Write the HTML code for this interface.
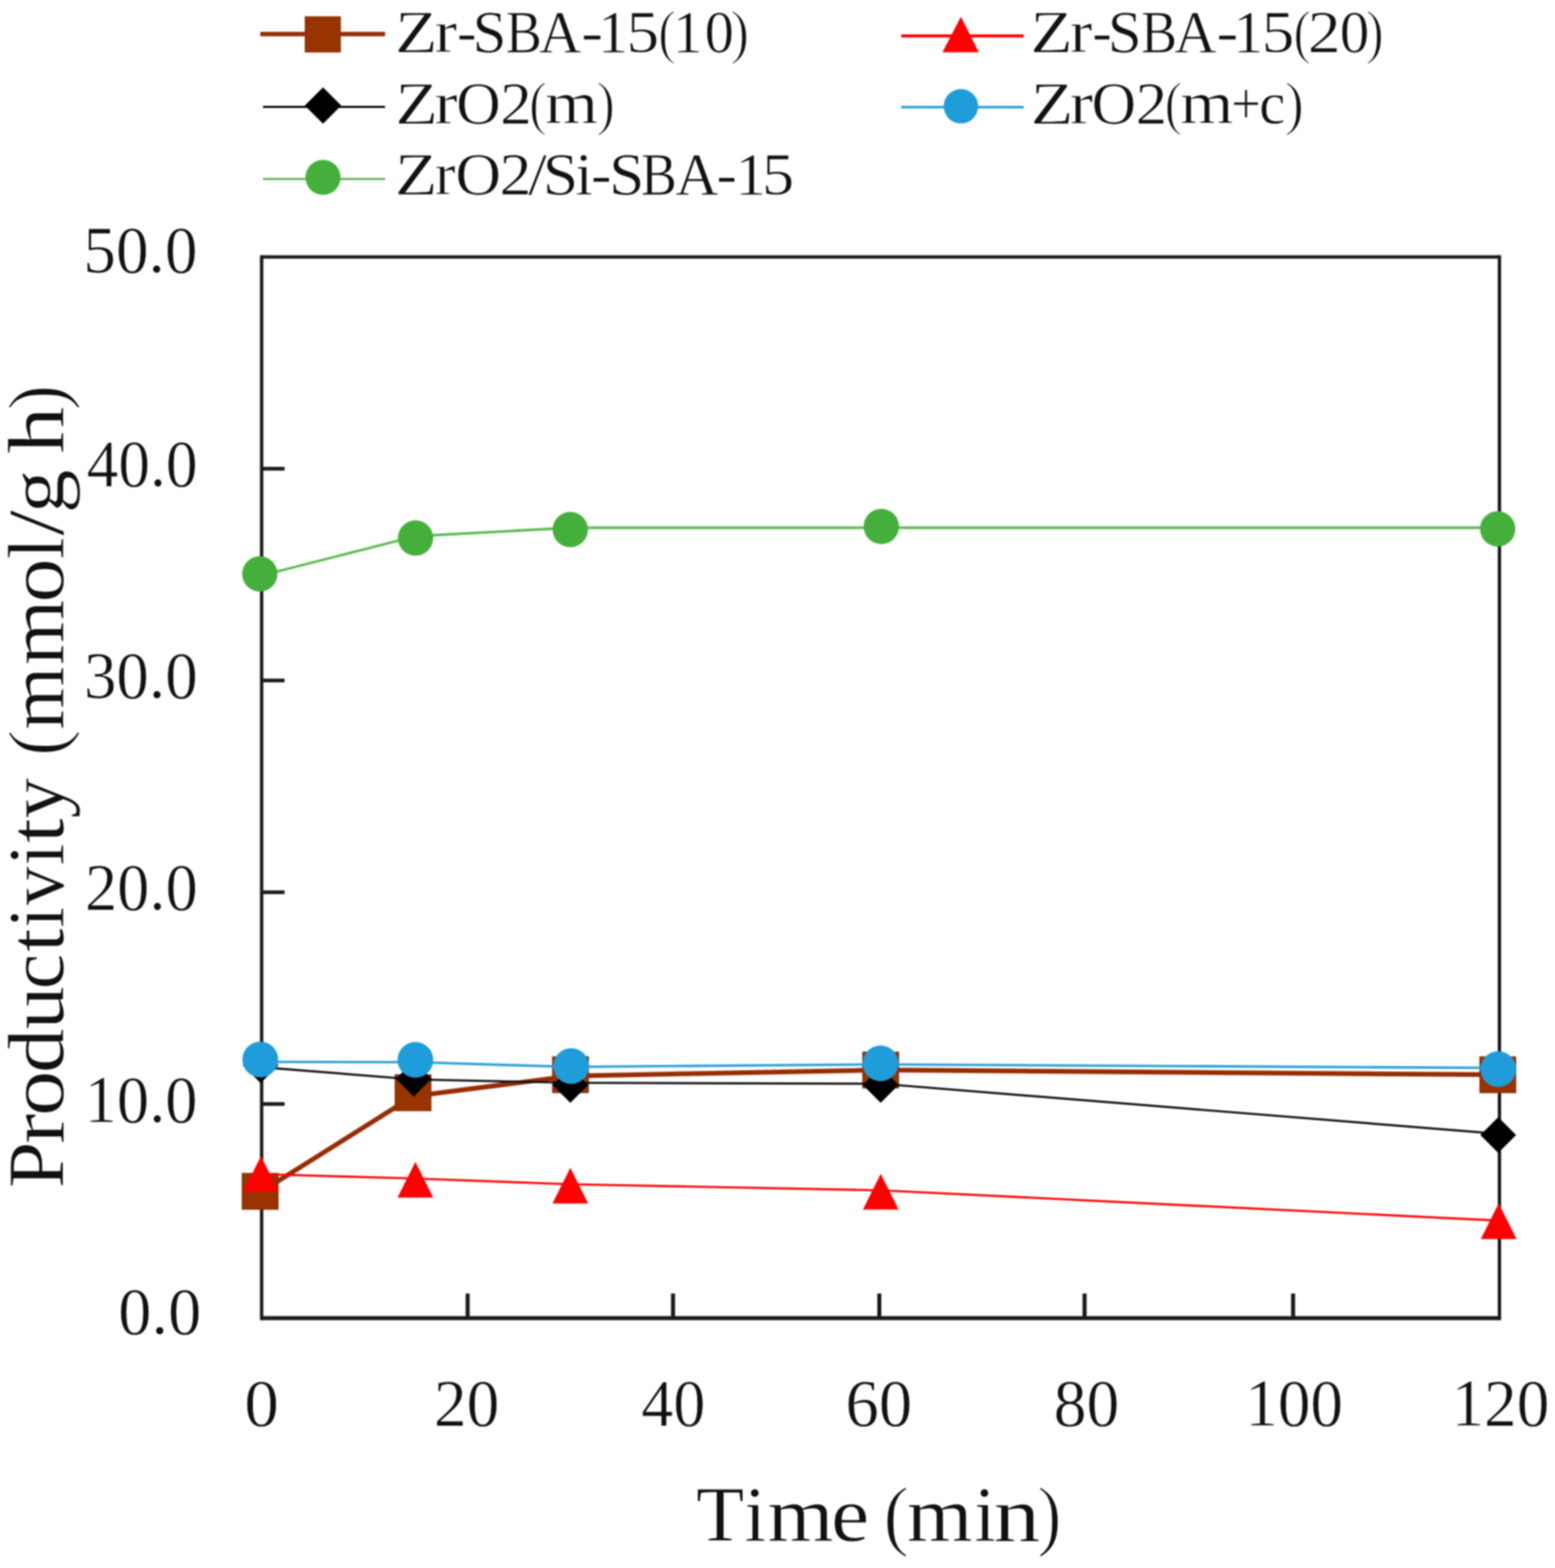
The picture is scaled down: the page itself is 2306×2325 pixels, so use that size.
<!DOCTYPE html>
<html><head><meta charset="utf-8"><title>Productivity vs Time</title>
<style>
html,body{margin:0;padding:0;background:#fff;}
body{width:2306px;height:2325px;overflow:hidden;}
svg{display:block;}
svg text{fill:#111;stroke:#fff;stroke-width:0.8px;paint-order:fill;}
#chart{filter:blur(1.0px);}
</style></head>
<body>
<svg id="chart" width="2306" height="2325" viewBox="0 0 2306 2325" font-family="'Liberation Serif','DejaVu Serif',serif">
<rect x="0" y="0" width="2306" height="2325" fill="#fff"/>
<line x1="386" y1="50.5" x2="571" y2="50.5" stroke="#962c02" stroke-width="6.5"/>
<rect x="452.7" y="25.0" width="52.0" height="52.0" fill="#993300" stroke="#8a2800" stroke-width="1.5"/>
<line x1="390" y1="158.5" x2="571" y2="158.5" stroke="#000" stroke-width="3.2"/>
<polygon points="479.0,129.6 506.0,156.6 479.0,183.6 452.0,156.6" fill="#000"/>
<line x1="390" y1="265.3" x2="571" y2="265.3" stroke="#5cba52" stroke-width="3.2"/>
<circle cx="479.0" cy="263.0" r="26.0" fill="#44b03b"/>
<line x1="1336.4" y1="53.3" x2="1518.2" y2="53.3" stroke="#ff0000" stroke-width="4.5"/>
<polygon points="1425,24.7 1451.5,77.6 1397.6,77.6" fill="#ff0000"/>
<line x1="1336.4" y1="158.9" x2="1518.2" y2="158.9" stroke="#2a9fdb" stroke-width="3.6"/>
<circle cx="1425.0" cy="157.6" r="25.5" fill="#1f9cda"/>
<text y="77.0" font-size="88.5"><tspan x="585.96" textLength="62.71" lengthAdjust="spacingAndGlyphs">Z</tspan><tspan x="644.76" textLength="33.09" lengthAdjust="spacingAndGlyphs">r</tspan><tspan x="677.85" textLength="28.97" lengthAdjust="spacingAndGlyphs">-</tspan><tspan x="700.77" textLength="50.27" lengthAdjust="spacingAndGlyphs">S</tspan><tspan x="749.98" textLength="53.58" lengthAdjust="spacingAndGlyphs">B</tspan><tspan x="799.62" textLength="62.38" lengthAdjust="spacingAndGlyphs">A</tspan><tspan x="862.10" textLength="32.43" lengthAdjust="spacingAndGlyphs">-</tspan><tspan x="887.00" textLength="44.25" lengthAdjust="spacingAndGlyphs">1</tspan><tspan x="928.91" textLength="48.55" lengthAdjust="spacingAndGlyphs">5</tspan><tspan x="975.93" textLength="26.28" lengthAdjust="spacingAndGlyphs" style="stroke-width:2px">(</tspan><tspan x="997.60" textLength="44.25" lengthAdjust="spacingAndGlyphs">1</tspan><tspan x="1044.96" textLength="43.43" lengthAdjust="spacingAndGlyphs">0</tspan><tspan x="1083.04" textLength="28.07" lengthAdjust="spacingAndGlyphs" style="stroke-width:2px">)</tspan></text>
<text y="77.0" font-size="88.5"><tspan x="1527.96" textLength="62.71" lengthAdjust="spacingAndGlyphs">Z</tspan><tspan x="1586.76" textLength="33.09" lengthAdjust="spacingAndGlyphs">r</tspan><tspan x="1619.85" textLength="28.97" lengthAdjust="spacingAndGlyphs">-</tspan><tspan x="1642.77" textLength="50.27" lengthAdjust="spacingAndGlyphs">S</tspan><tspan x="1691.98" textLength="53.58" lengthAdjust="spacingAndGlyphs">B</tspan><tspan x="1741.62" textLength="62.38" lengthAdjust="spacingAndGlyphs">A</tspan><tspan x="1804.10" textLength="32.43" lengthAdjust="spacingAndGlyphs">-</tspan><tspan x="1829.00" textLength="44.25" lengthAdjust="spacingAndGlyphs">1</tspan><tspan x="1870.91" textLength="48.55" lengthAdjust="spacingAndGlyphs">5</tspan><tspan x="1917.93" textLength="26.28" lengthAdjust="spacingAndGlyphs" style="stroke-width:2px">(</tspan><tspan x="1939.61" textLength="48.55" lengthAdjust="spacingAndGlyphs">2</tspan><tspan x="1986.72" textLength="43.90" lengthAdjust="spacingAndGlyphs">0</tspan><tspan x="2025.16" textLength="26.92" lengthAdjust="spacingAndGlyphs" style="stroke-width:2px">)</tspan></text>
<text y="182.5" font-size="88.5"><tspan x="586.32" textLength="63.19" lengthAdjust="spacingAndGlyphs">Z</tspan><tspan x="644.17" textLength="34.40" lengthAdjust="spacingAndGlyphs">r</tspan><tspan x="676.46" textLength="66.09" lengthAdjust="spacingAndGlyphs">O</tspan><tspan x="741.76" textLength="46.91" lengthAdjust="spacingAndGlyphs">2</tspan><tspan x="784.60" textLength="26.54" lengthAdjust="spacingAndGlyphs" style="stroke-width:2px">(</tspan><tspan x="808.32" textLength="78.48" lengthAdjust="spacingAndGlyphs">m</tspan><tspan x="884.50" textLength="27.56" lengthAdjust="spacingAndGlyphs" style="stroke-width:2px">)</tspan></text>
<text y="182.5" font-size="88.5"><tspan x="1528.62" textLength="63.19" lengthAdjust="spacingAndGlyphs">Z</tspan><tspan x="1586.47" textLength="34.40" lengthAdjust="spacingAndGlyphs">r</tspan><tspan x="1618.76" textLength="66.09" lengthAdjust="spacingAndGlyphs">O</tspan><tspan x="1684.06" textLength="46.90" lengthAdjust="spacingAndGlyphs">2</tspan><tspan x="1726.90" textLength="26.54" lengthAdjust="spacingAndGlyphs" style="stroke-width:2px">(</tspan><tspan x="1750.62" textLength="78.48" lengthAdjust="spacingAndGlyphs">m</tspan><tspan x="1825.90" textLength="43.74" lengthAdjust="spacingAndGlyphs">+</tspan><tspan x="1867.24" textLength="38.82" lengthAdjust="spacingAndGlyphs">c</tspan><tspan x="1904.74" textLength="29.10" lengthAdjust="spacingAndGlyphs" style="stroke-width:2px">)</tspan></text>
<text y="288.0" font-size="88.5"><tspan x="585.84" textLength="62.95" lengthAdjust="spacingAndGlyphs">Z</tspan><tspan x="644.93" textLength="30.58" lengthAdjust="spacingAndGlyphs">r</tspan><tspan x="675.25" textLength="67.92" lengthAdjust="spacingAndGlyphs">O</tspan><tspan x="740.71" textLength="47.41" lengthAdjust="spacingAndGlyphs">2</tspan><tspan x="783.10" textLength="28.08" lengthAdjust="spacingAndGlyphs">/</tspan><tspan x="804.76" textLength="52.86" lengthAdjust="spacingAndGlyphs">S</tspan><tspan x="852.97" textLength="26.23" lengthAdjust="spacingAndGlyphs">i</tspan><tspan x="876.41" textLength="30.38" lengthAdjust="spacingAndGlyphs">-</tspan><tspan x="903.21" textLength="52.47" lengthAdjust="spacingAndGlyphs">S</tspan><tspan x="950.59" textLength="53.24" lengthAdjust="spacingAndGlyphs">B</tspan><tspan x="1001.70" textLength="63.72" lengthAdjust="spacingAndGlyphs">A</tspan><tspan x="1062.41" textLength="30.38" lengthAdjust="spacingAndGlyphs">-</tspan><tspan x="1090.75" textLength="45.11" lengthAdjust="spacingAndGlyphs">1</tspan><tspan x="1129.90" textLength="47.81" lengthAdjust="spacingAndGlyphs">5</tspan></text>
<line x1="388.0" y1="381.0" x2="2223.6" y2="381.0" stroke="#1a1a1a" stroke-width="5"/>
<line x1="388.0" y1="1954.5" x2="2223.6" y2="1954.5" stroke="#1a1a1a" stroke-width="6"/>
<line x1="388.0" y1="378.5" x2="388.0" y2="1957.5" stroke="#1a1a1a" stroke-width="5"/>
<line x1="2223.6" y1="378.5" x2="2223.6" y2="1957.5" stroke="#1a1a1a" stroke-width="5"/>
<line x1="388.0" y1="1637.0" x2="422" y2="1637.0" stroke="#1a1a1a" stroke-width="5.5"/>
<line x1="388.0" y1="1323.0" x2="422" y2="1323.0" stroke="#1a1a1a" stroke-width="5.5"/>
<line x1="388.0" y1="1009.0" x2="422" y2="1009.0" stroke="#1a1a1a" stroke-width="5.5"/>
<line x1="388.0" y1="695.0" x2="422" y2="695.0" stroke="#1a1a1a" stroke-width="5.5"/>
<line x1="693.5" y1="1918" x2="693.5" y2="1954.5" stroke="#1a1a1a" stroke-width="6"/>
<line x1="998.1" y1="1918" x2="998.1" y2="1954.5" stroke="#1a1a1a" stroke-width="6"/>
<line x1="1304.0" y1="1918" x2="1304.0" y2="1954.5" stroke="#1a1a1a" stroke-width="6"/>
<line x1="1608.4" y1="1918" x2="1608.4" y2="1954.5" stroke="#1a1a1a" stroke-width="6"/>
<line x1="1917.6" y1="1918" x2="1917.6" y2="1954.5" stroke="#1a1a1a" stroke-width="6"/>
<text x="123.59" y="403.6" font-size="100" textLength="169.38" lengthAdjust="spacingAndGlyphs">50.0</text>
<text x="128.62" y="721.4" font-size="100" textLength="164.44" lengthAdjust="spacingAndGlyphs">40.0</text>
<text x="124.38" y="1035.2" font-size="100" textLength="168.78" lengthAdjust="spacingAndGlyphs">30.0</text>
<text x="126.08" y="1349.2" font-size="100" textLength="167.04" lengthAdjust="spacingAndGlyphs">20.0</text>
<text x="125.49" y="1663.8" font-size="100" textLength="167.44" lengthAdjust="spacingAndGlyphs">10.0</text>
<text x="175.25" y="1977.6" font-size="100" textLength="123.40" lengthAdjust="spacingAndGlyphs">0.0</text>
<text x="362.19" y="2113.6" font-size="100" textLength="51.43" lengthAdjust="spacingAndGlyphs">0</text>
<text x="643.52" y="2113.6" font-size="100" textLength="97.07" lengthAdjust="spacingAndGlyphs">20</text>
<text x="951.00" y="2113.6" font-size="100" textLength="94.89" lengthAdjust="spacingAndGlyphs">40</text>
<text x="1253.73" y="2113.6" font-size="100" textLength="99.13" lengthAdjust="spacingAndGlyphs">60</text>
<text x="1562.61" y="2113.6" font-size="100" textLength="97.28" lengthAdjust="spacingAndGlyphs">80</text>
<text x="1846.48" y="2113.6" font-size="100" textLength="145.29" lengthAdjust="spacingAndGlyphs">100</text>
<text x="2152.38" y="2113.6" font-size="100" textLength="145.40" lengthAdjust="spacingAndGlyphs">120</text>
<text y="2284.5" font-size="117.5"><tspan x="1032.21" textLength="71.36" lengthAdjust="spacingAndGlyphs">T</tspan><tspan x="1104.03" textLength="32.19" lengthAdjust="spacingAndGlyphs">i</tspan><tspan x="1138.16" textLength="97.95" lengthAdjust="spacingAndGlyphs">m</tspan><tspan x="1232.57" textLength="56.64" lengthAdjust="spacingAndGlyphs">e</tspan><tspan x="1290.00"> </tspan><tspan x="1310.30" textLength="37.58" lengthAdjust="spacingAndGlyphs" style="stroke-width:2px">(</tspan><tspan x="1344.77" textLength="97.53" lengthAdjust="spacingAndGlyphs">m</tspan><tspan x="1444.85" textLength="31.84" lengthAdjust="spacingAndGlyphs">i</tspan><tspan x="1473.57" textLength="69.19" lengthAdjust="spacingAndGlyphs">n</tspan><tspan x="1538.56" textLength="35.62" lengthAdjust="spacingAndGlyphs" style="stroke-width:2px">)</tspan></text>
<g transform="translate(94.3,0) rotate(-90)">
<text y="0" font-size="118"><tspan x="-1761.76" textLength="69.04" lengthAdjust="spacingAndGlyphs">P</tspan><tspan x="-1696.62" textLength="45.52" lengthAdjust="spacingAndGlyphs">r</tspan><tspan x="-1655.13" textLength="67.67" lengthAdjust="spacingAndGlyphs">o</tspan><tspan x="-1591.30" textLength="66.43" lengthAdjust="spacingAndGlyphs">d</tspan><tspan x="-1526.68" textLength="64.36" lengthAdjust="spacingAndGlyphs">u</tspan><tspan x="-1466.96" textLength="52.97" lengthAdjust="spacingAndGlyphs">c</tspan><tspan x="-1411.67" textLength="35.23" lengthAdjust="spacingAndGlyphs">t</tspan><tspan x="-1375.79" textLength="30.99" lengthAdjust="spacingAndGlyphs">i</tspan><tspan x="-1342.20" textLength="57.20" lengthAdjust="spacingAndGlyphs">v</tspan><tspan x="-1283.61" textLength="32.91" lengthAdjust="spacingAndGlyphs">i</tspan><tspan x="-1250.23" textLength="37.03" lengthAdjust="spacingAndGlyphs">t</tspan><tspan x="-1213.42" textLength="60.02" lengthAdjust="spacingAndGlyphs">y</tspan><tspan x="-1140.00"> </tspan><tspan x="-1121.30" textLength="39.30" lengthAdjust="spacingAndGlyphs" style="stroke-width:2px">(</tspan><tspan x="-1082.35" textLength="93.99" lengthAdjust="spacingAndGlyphs">m</tspan><tspan x="-986.32" textLength="97.12" lengthAdjust="spacingAndGlyphs">m</tspan><tspan x="-893.57" textLength="65.74" lengthAdjust="spacingAndGlyphs">o</tspan><tspan x="-829.20" textLength="32.80" lengthAdjust="spacingAndGlyphs">l</tspan><tspan x="-794.60" textLength="38.23" lengthAdjust="spacingAndGlyphs">/</tspan><tspan x="-761.22" textLength="65.13" lengthAdjust="spacingAndGlyphs">g</tspan><tspan x="-690.00"> </tspan><tspan x="-673.09" textLength="70.48" lengthAdjust="spacingAndGlyphs">h</tspan><tspan x="-608.14" textLength="37.72" lengthAdjust="spacingAndGlyphs" style="stroke-width:2px">)</tspan></text>
</g>
<polyline points="385.8,1768.0 612.5,1625.5 846.0,1595.5 1306.0,1586.6 2221.2,1593.6" fill="none" stroke="#962c02" stroke-width="7.0" stroke-linejoin="round" stroke-linecap="butt"/>
<rect x="359.3" y="1740.0" width="53.0" height="53.0" fill="#993300" stroke="#8a2800" stroke-width="1.5"/>
<rect x="586.0" y="1593.8" width="53.0" height="53.0" fill="#993300" stroke="#8a2800" stroke-width="1.5"/>
<rect x="819.5" y="1567.0" width="53.0" height="53.0" fill="#993300" stroke="#8a2800" stroke-width="1.5"/>
<rect x="1279.5" y="1560.1" width="53.0" height="53.0" fill="#993300" stroke="#8a2800" stroke-width="1.5"/>
<rect x="2194.7" y="1567.1" width="53.0" height="53.0" fill="#993300" stroke="#8a2800" stroke-width="1.5"/>
<polyline points="387.0,1741.0 616.0,1747.5 845.8,1756.0 1306.1,1765.0 2222.5,1809.8" fill="none" stroke="#ff0000" stroke-width="3.2" stroke-linejoin="round" stroke-linecap="butt"/>
<polygon points="387.0,1714.3 413.5,1767.3 360.5,1767.3" fill="#ff0000"/>
<polygon points="616.0,1722.7 642.5,1775.7 589.5,1775.7" fill="#ff0000"/>
<polygon points="845.8,1731.5 872.3,1784.5 819.3,1784.5" fill="#ff0000"/>
<polygon points="1306.1,1740.5 1332.6,1793.5 1279.6,1793.5" fill="#ff0000"/>
<polygon points="2222.5,1784.3 2249.0,1837.3 2196.0,1837.3" fill="#ff0000"/>
<polyline points="386.5,1582.3 613.5,1600.5 845.8,1605.5 1306.0,1607.0 2221.8,1681.2" fill="none" stroke="#111" stroke-width="3.2" stroke-linejoin="round" stroke-linecap="butt"/>
<polygon points="386.5,1553.0 413.0,1579.5 386.5,1606.0 360.0,1579.5" fill="#000"/>
<polygon points="613.5,1573.0 640.0,1599.5 613.5,1626.0 587.0,1599.5" fill="#000"/>
<polygon points="845.8,1582.3 872.3,1608.8 845.8,1635.3 819.3,1608.8" fill="#000"/>
<polygon points="1306.0,1582.2 1332.5,1608.7 1306.0,1635.2 1279.5,1608.7" fill="#000"/>
<polygon points="2221.8,1656.5 2248.3,1683.0 2221.8,1709.5 2195.3,1683.0" fill="#000"/>
<polyline points="386.0,1574.5 616.0,1575.0 847.0,1582.0 1305.8,1578.2 2221.8,1583.5" fill="none" stroke="#2a9fdb" stroke-width="3.6" stroke-linejoin="round" stroke-linecap="butt"/>
<circle cx="386.0" cy="1571.0" r="26.5" fill="#1f9cda"/>
<circle cx="616.0" cy="1571.6" r="26.5" fill="#1f9cda"/>
<circle cx="847.0" cy="1580.8" r="26.5" fill="#1f9cda"/>
<circle cx="1305.8" cy="1576.8" r="26.5" fill="#1f9cda"/>
<circle cx="2221.8" cy="1585.2" r="26.5" fill="#1f9cda"/>
<polyline points="385.3,854.0 616.2,795.0 845.7,782.5 1307.0,782.5 2221.0,782.5" fill="none" stroke="#5cba52" stroke-width="3.8" stroke-linejoin="round" stroke-linecap="butt"/>
<circle cx="385.3" cy="851.0" r="26.2" fill="#44b03b"/>
<circle cx="616.2" cy="797.7" r="26.2" fill="#44b03b"/>
<circle cx="845.7" cy="785.3" r="26.2" fill="#44b03b"/>
<circle cx="1307.0" cy="780.6" r="26.2" fill="#44b03b"/>
<circle cx="2221.0" cy="784.3" r="26.2" fill="#44b03b"/>
</svg>
</body></html>
